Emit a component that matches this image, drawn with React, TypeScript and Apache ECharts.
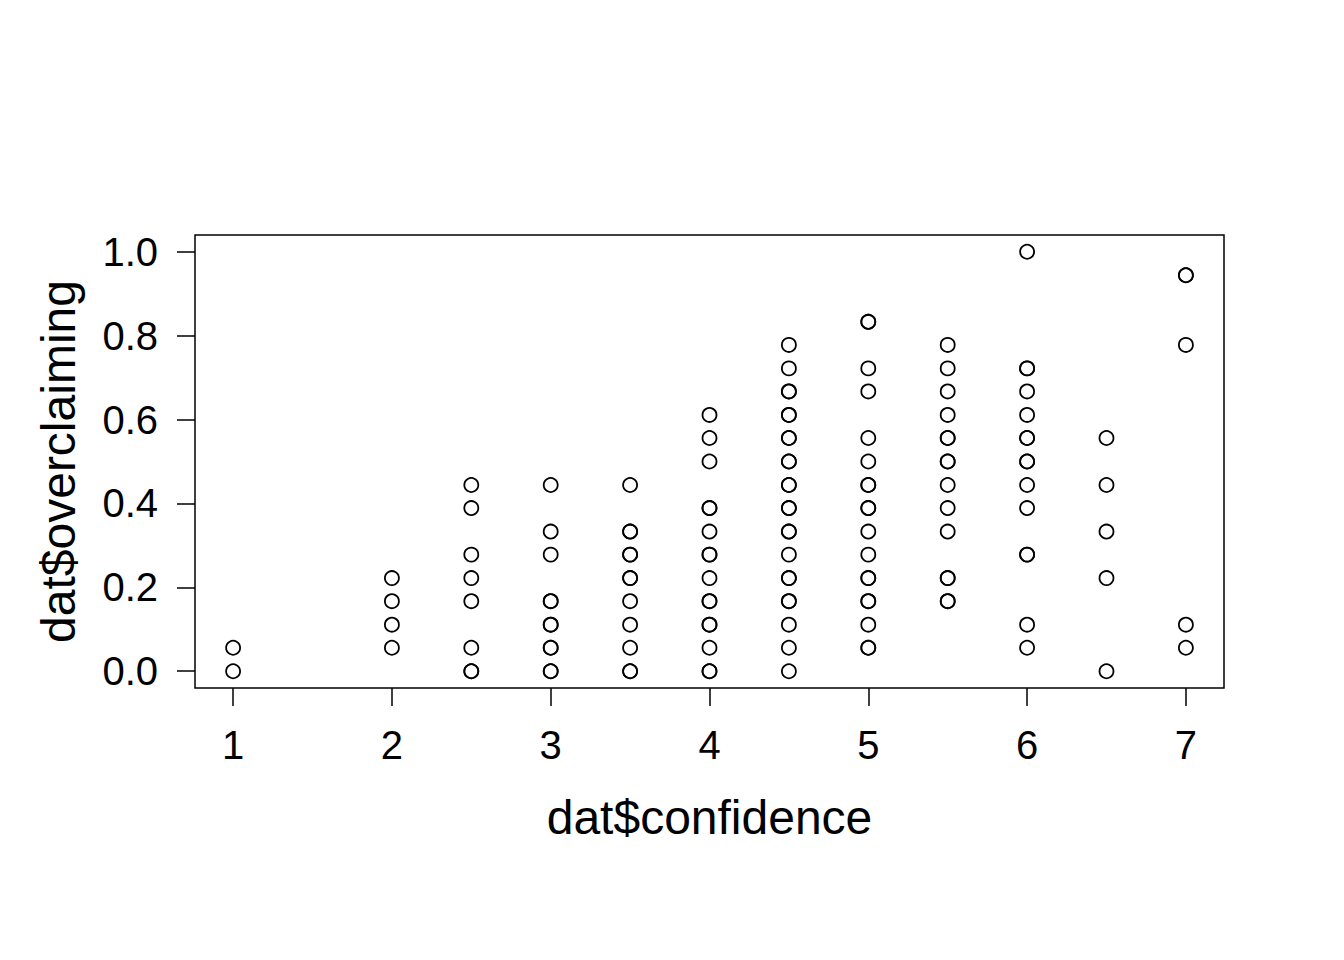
import React, { useEffect, useRef } from "react";
import * as echarts from "echarts";

// Observed overclaiming values for each confidence level (overlapping points repeated)
const confidenceLevels = [1, 2, 2.5, 3, 3.5, 4, 4.5, 5, 5.5, 6, 6.5, 7];
const at1 = [0.056, 0];
const at2 = [0.222, 0.167, 0.111, 0.056];
const at25 = [0.444, 0.389, 0.278, 0.222, 0.167, 0.056, 0, 0];
const at3 = [0.444, 0.333, 0.278, 0.167, 0.167, 0.111, 0.111, 0.056, 0.056, 0, 0];
const at35 = [0.444, 0.333, 0.333, 0.278, 0.278, 0.222, 0.222, 0.167, 0.111, 0.056, 0, 0];
const at4 = [0.611, 0.556, 0.5, 0.389, 0.389, 0.333, 0.278, 0.278, 0.222, 0.167, 0.167, 0.111, 0.111, 0.056, 0, 0];
const at45 = [0.778, 0.722, 0.667, 0.667, 0.611, 0.611, 0.556, 0.556, 0.5, 0.5, 0.444, 0.444, 0.389, 0.389, 0.333, 0.333, 0.278, 0.222, 0.222, 0.167, 0.167, 0.111, 0.056, 0];
const at5 = [0.833, 0.833, 0.722, 0.667, 0.556, 0.5, 0.444, 0.444, 0.389, 0.389, 0.333, 0.278, 0.222, 0.222, 0.167, 0.167, 0.111, 0.056, 0.056];
const at55 = [0.778, 0.722, 0.667, 0.611, 0.556, 0.556, 0.5, 0.5, 0.444, 0.389, 0.333, 0.222, 0.222, 0.167, 0.167];
const at6 = [1.0, 0.722, 0.722, 0.667, 0.611, 0.556, 0.556, 0.5, 0.5, 0.444, 0.389, 0.278, 0.278, 0.111, 0.056];
const at65 = [0.556, 0.444, 0.333, 0.222, 0];
const at7 = [0.944, 0.944, 0.778, 0.111, 0.056];
const overclaimingByLevel = [at1, at2, at25, at3, at35, at4, at45, at5, at55, at6, at65, at7];

const xTicks = [1, 2, 3, 4, 5, 6, 7];
const yTicks = [0, 0.2, 0.4, 0.6, 0.8, 1.0];

export default function App() {
  const ref = useRef<HTMLDivElement>(null);
  useEffect(() => {
    if (!ref.current) return;
    const chart = echarts.init(ref.current, undefined, { renderer: "svg" });
    const points: number[][] = [];
    confidenceLevels.forEach((c, i) => {
      overclaimingByLevel[i].forEach((v) => points.push([c, v]));
    });
    const font = "'Liberation Sans', Arial, Helvetica, sans-serif";
    chart.setOption({
      animation: false,
      backgroundColor: "#ffffff",
      grid: {
        left: 195,
        right: 120,
        top: 235,
        bottom: 272,
        show: true,
        borderColor: "#000",
        borderWidth: 1.5,
        backgroundColor: "transparent",
      },
      xAxis: {
        type: "value",
        min: 0.76,
        max: 7.24,
        name: "dat$confidence",
        nameLocation: "middle",
        nameGap: 105,
        nameTextStyle: { fontSize: 48, color: "#000", fontFamily: font },
        splitLine: { show: false },
        axisLine: { show: false, onZero: false },
        axisTick: {
          show: true,
          inside: false,
          customValues: xTicks,
          length: 18,
          lineStyle: { color: "#000", width: 1.5 },
        },
        axisLabel: {
          customValues: xTicks,
          margin: 37,
          fontSize: 40,
          color: "#000",
          fontFamily: font,
          formatter: (v: number) => String(v),
        },
      },
      yAxis: {
        type: "value",
        min: -0.04,
        max: 1.04,
        name: "dat$overclaiming",
        nameLocation: "middle",
        nameGap: 113,
        nameRotate: 90,
        nameTextStyle: { fontSize: 48, color: "#000", fontFamily: font },
        splitLine: { show: false },
        axisLine: { show: false, onZero: false },
        axisTick: {
          show: true,
          inside: false,
          customValues: yTicks,
          length: 18,
          lineStyle: { color: "#000", width: 1.5 },
        },
        axisLabel: {
          customValues: yTicks,
          margin: 37,
          fontSize: 40,
          color: "#000",
          fontFamily: font,
          formatter: (v: number) => v.toFixed(1),
        },
      },
      series: [
        {
          type: "scatter",
          data: points,
          symbol: "circle",
          symbolSize: 14,
          itemStyle: {
            color: "transparent",
            borderColor: "#000",
            borderWidth: 1.8,
            opacity: 1,
          },
          emphasis: { disabled: true },
        },
      ],
    });
    return () => chart.dispose();
  }, []);
  return (
    <div
      ref={ref}
      style={{ position: "fixed", left: 0, top: 0, width: 1344, height: 960, background: "#fff" }}
    />
  );
}
